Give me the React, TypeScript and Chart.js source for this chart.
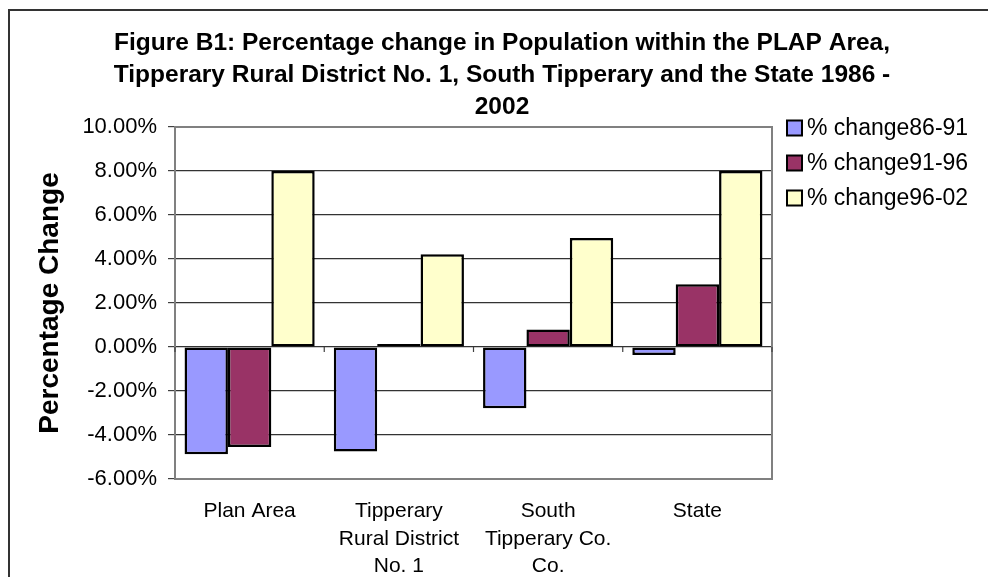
import React, { useEffect, useRef } from 'react';
import { Chart, registerables } from 'chart.js';
Chart.register(...registerables);

const titleLines = [
  'Figure B1: Percentage change in Population within the PLAP Area,',
  'Tipperary Rural District No. 1, South Tipperary and the State 1986 -',
  '2002',
];
const categories = [
  ['Plan Area'],
  ['Tipperary', 'Rural District', 'No. 1'],
  ['South', 'Tipperary Co.', 'Co.'],
  ['State'],
];
const seriesLabels = ['% change86-91', '% change91-96', '% change96-02'];
const change8691 = [-4.88, -4.75, -2.78, -0.36];
const change9196 = [-4.55, 0.02, 0.8, 2.85];
const change9602 = [8.0, 4.22, 4.95, 8.0];
const yTicks = [-6, -4, -2, 0, 2, 4, 6, 8, 10];
const yAxisTitle = 'Percentage Change';
const seriesColors = ['#9999FF', '#993366', '#FFFFCC'];

const FONT = '"Liberation Sans", Arial, Helvetica, sans-serif';

const decorPlugin = {
  id: 'decor',
  afterDraw(chart: any) {
    const ctx = chart.ctx as CanvasRenderingContext2D;
    const { left, right, top, bottom } = chart.chartArea;
    const xs = chart.scales.x;
    const ys = chart.scales.y;
    ctx.save();
    // plot frame
    ctx.strokeStyle = '#808080';
    ctx.lineWidth = 2;
    ctx.strokeRect(left, top, right - left, bottom - top);
    // category tick marks on the zero line
    const y0 = ys.getPixelForValue(0);
    ctx.strokeStyle = '#404040';
    ctx.lineWidth = 1.2;
    for (let i = 0; i <= categories.length; i++) {
      const px = xs.getPixelForValue(i - 0.5);
      ctx.beginPath();
      ctx.moveTo(px, y0);
      ctx.lineTo(px, y0 + 5);
      ctx.stroke();
    }
    // title
    ctx.fillStyle = '#000';
    ctx.font = `bold 24.5px ${FONT}`;
    ctx.textAlign = 'center';
    ctx.textBaseline = 'middle';
    titleLines.forEach((t, i) => ctx.fillText(t, 502, 43 + i * 32));
    // legend
    ctx.font = `23px ${FONT}`;
    ctx.textAlign = 'left';
    chart.data.datasets.forEach((ds: any, i: number) => {
      const cy = 128 + i * 35;
      ctx.fillStyle = ds.backgroundColor;
      ctx.fillRect(787, cy - 7.5, 15, 15);
      ctx.strokeStyle = '#000';
      ctx.lineWidth = 2;
      ctx.strokeRect(787, cy - 7.5, 15, 15);
      ctx.fillStyle = '#000';
      ctx.fillText(ds.label, 807, cy + 1);
    });
    ctx.restore();
  },
};

export default function App() {
  const ref = useRef<HTMLCanvasElement>(null);
  useEffect(() => {
    if (!ref.current) return;
    const series = [change8691, change9196, change9602];
    const chart = new Chart(ref.current, {
      type: 'bar',
      data: {
        labels: categories as any,
        datasets: series.map((d, i) => ({
          label: seriesLabels[i],
          data: d,
          backgroundColor: seriesColors[i],
          borderColor: '#000',
          borderWidth: 2.5,
          borderSkipped: false,
          categoryPercentage: 0.872,
          barPercentage: 1,
          minBarLength: 3,
        })),
      },
      options: {
        animation: false,
        responsive: false,
        devicePixelRatio: 1,
        layout: { padding: { top: 127, left: 20, right: 216, bottom: 0 } },
        plugins: {
          legend: { display: false },
          title: { display: false },
          tooltip: { enabled: false },
        },
        scales: {
          x: {
            grid: { display: false, drawTicks: false },
            border: { display: true, color: '#808080', width: 2 },
            ticks: {
              color: '#000',
              font: { family: FONT, size: 21, lineHeight: 1.3 },
              padding: 19,
              maxRotation: 0,
              autoSkip: false,
            },
            afterFit: (s: any) => {
              s.height = 98;
            },
          },
          y: {
            min: -6,
            max: 10,
            afterBuildTicks: (s: any) => {
              s.ticks = yTicks.map((v) => ({ value: v }));
            },
            ticks: {
              color: '#000',
              font: { family: FONT, size: 22 },
              padding: 11,
              callback: (v: any) => Number(v).toFixed(2) + '%',
            },
            grid: { color: '#333', lineWidth: 1.2, tickLength: 7, tickColor: '#404040' },
            border: { display: true, color: '#808080', width: 2 },
            title: {
              display: true,
              text: yAxisTitle,
              color: '#000',
              font: { family: FONT, size: 28, weight: 'bold' },
              padding: { top: 13, bottom: 0 },
            },
            afterFit: (s: any) => {
              s.width = 155;
            },
          },
        },
      } as any,
      plugins: [decorPlugin],
    });
    return () => chart.destroy();
  }, []);
  return (
    <div style={{ position: 'fixed', left: 0, top: 0, width: 988, height: 577, overflow: 'hidden', background: '#fff' }}>
      <div
        style={{
          position: 'absolute',
          left: 8,
          top: 9,
          width: 2000,
          height: 2000,
          borderLeft: '2px solid #333',
          borderTop: '2px solid #333',
        }}
      />
      <canvas ref={ref} width={988} height={577} style={{ position: 'absolute', left: 0, top: 0, width: 988, height: 577 }} />
    </div>
  );
}
